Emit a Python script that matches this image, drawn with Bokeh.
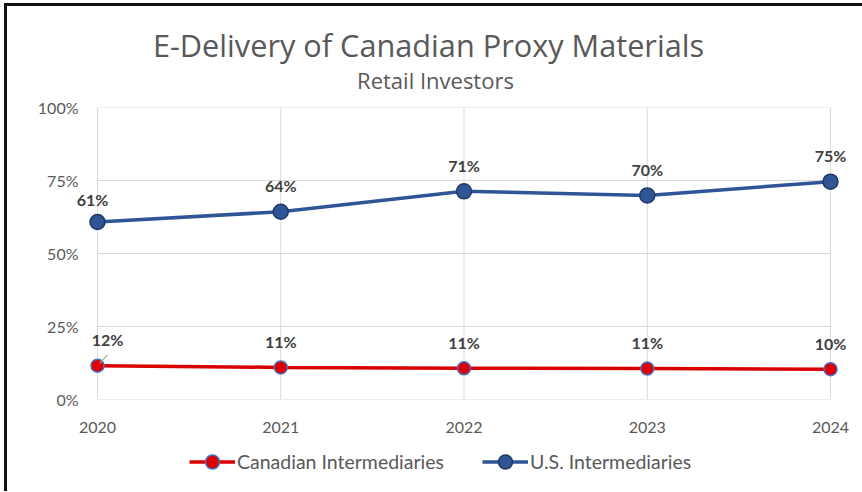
from bokeh.plotting import figure
from bokeh.layouts import column
from bokeh.models import (ColumnDataSource, LabelSet, Legend, LegendItem, Label,
                          FixedTicker, NumeralTickFormatter, Range1d)
from bokeh.core.properties import value
from bokeh.embed import file_html
from bokeh.resources import INLINE

title = "E-Delivery of Canadian Proxy Materials"
subtitle = "Retail Investors"
years = [2020, 2021, 2022, 2023, 2024]
us_vals = [0.608, 0.643, 0.713, 0.699, 0.746]
can_vals = [0.116, 0.110, 0.107, 0.106, 0.104]
y_ticks = [0, 0.25, 0.5, 0.75, 1.0]
series_names = ["Canadian Intermediaries", "U.S. Intermediaries"]

FONT = "Lato"
TFONT = "Open Sans"
GRAY = "#595959"
GRID = "#d9d9d9"

W = 855
FRAME_L, X0_PX, X1_PX, FRAME_R = 67, 90, 823, 845
ppy = (X1_PX - X0_PX) / (years[-1] - years[0])
x_start = years[0] - (X0_PX - FRAME_L) / ppy
x_end = years[-1] + (FRAME_R - X1_PX) / ppy

H0, H1, H2 = 91, 342, 52

# ---- title strip (frame is aligned with the main chart's frame; coords = canvas pixels)
top = figure(width=W, height=H0, output_backend="svg", toolbar_location=None,
             x_range=Range1d(FRAME_L, FRAME_R), y_range=Range1d(H0, 0),
             x_axis_type=None, y_axis_type=None, min_border=0)
top.outline_line_color = None
top.grid.visible = False
top.add_layout(Label(x=421, y=38, text=title, text_align="center", text_baseline="middle",
                     text_font=TFONT, text_font_size="30.7px", text_color=GRAY))
top.add_layout(Label(x=428, y=73, text=subtitle, text_align="center", text_baseline="middle",
                     text_font=TFONT, text_font_size="22px", text_color=GRAY))

# ---- main chart
p = figure(width=W, height=H1, output_backend="svg", toolbar_location=None,
           x_range=Range1d(x_start, x_end), y_range=Range1d(y_ticks[0], y_ticks[-1]),
           min_border_left=FRAME_L, min_border_right=W - FRAME_R,
           min_border_top=10, min_border_bottom=40)

p.outline_line_color = None
p.grid.visible = False
# gridlines limited to the data extent
p.segment(x0=years, y0=[y_ticks[0]] * len(years), x1=years, y1=[y_ticks[-1]] * len(years),
          line_color=GRID, line_width=1, level="underlay")
p.segment(x0=[years[0]] * len(y_ticks), y0=y_ticks, x1=[years[-1]] * len(y_ticks), y1=y_ticks,
          line_color=GRID, line_width=1, level="underlay")

p.xaxis.ticker = FixedTicker(ticks=years)
p.yaxis.ticker = FixedTicker(ticks=y_ticks)
p.yaxis.formatter = NumeralTickFormatter(format="0%")
for ax in (p.xaxis, p.yaxis):
    ax.axis_line_color = None
    ax.major_tick_line_color = None
    ax.minor_tick_line_color = None
    ax.major_label_text_font = FONT
    ax.major_label_text_font_size = "16px"
    ax.major_label_text_color = GRAY
p.yaxis.major_label_standoff = -10
p.xaxis.major_label_standoff = 16

us_src = ColumnDataSource(dict(x=years, y=us_vals, t=[f"{v:.0%}" for v in us_vals],
                               xo=[-5, 0, 0, 0, 0], yo=[22, 26, 26, 26, 26]))
can_src = ColumnDataSource(dict(x=years, y=can_vals, t=[f"{v:.0%}" for v in can_vals],
                                xo=[10, 0, 0, 0, 0], yo=[26, 26, 26, 26, 26]))

LINE_KW = dict(line_width=3.5)
CAN_LINE = dict(line_color="#D90000", **LINE_KW)
US_LINE = dict(line_color="#2F5597", **LINE_KW)
CAN_PT = dict(size=13, fill_color="#E00000", line_color="#4472C4", line_width=1.5)
US_PT = dict(size=15, fill_color="#2F5597", line_color="#1F3864", line_width=1.5)

p.line("x", "y", source=can_src, **CAN_LINE)
p.scatter("x", "y", source=can_src, **CAN_PT)
p.line("x", "y", source=us_src, **US_LINE)
p.scatter("x", "y", source=us_src, **US_PT)

# leader line for the first Canadian label
p.segment(x0=[years[0] + 0.012], y0=[can_vals[0] + 0.008],
          x1=[years[0] + 0.055], y1=[can_vals[0] + 0.037],
          line_color="#A6A6A6", line_width=1.2)

for src in (us_src, can_src):
    p.add_layout(LabelSet(x="x", y="y", text="t", source=src, x_offset="xo", y_offset="yo",
                          text_align="center", text_baseline="middle", text_font=value(FONT),
                          text_font_size=value("16px"), text_font_style=value("bold"),
                          text_color=value("#404040")))

# ---- legend strip (its renderers use the same data, outside the visible range)
lg = figure(width=W, height=H2, output_backend="svg", toolbar_location=None,
            x_range=Range1d(0, 1), y_range=Range1d(0, 1), x_axis_type=None, y_axis_type=None,
            min_border=0)
lg.outline_line_color = None
lg.grid.visible = False
r1 = lg.line("x", "y", source=can_src, **CAN_LINE)
r2 = lg.scatter("x", "y", source=can_src, **CAN_PT)
r3 = lg.line("x", "y", source=us_src, **US_LINE)
r4 = lg.scatter("x", "y", source=us_src, **US_PT)
legend = Legend(items=[LegendItem(label=series_names[0], renderers=[r1, r2]),
                       LegendItem(label=series_names[1], renderers=[r3, r4])],
                orientation="horizontal", location=(115, 12), padding=0, margin=0,
                spacing=38, glyph_width=46, glyph_height=35, label_standoff=2,
                label_text_font=FONT, label_text_font_size="19.5px",
                label_text_color=GRAY, border_line_color=None,
                background_fill_alpha=0)
lg.add_layout(legend, "center")

layout = column(top, p, lg, spacing=0,
                styles={"border-top": "3px solid #111111", "border-left": "3px solid #111111",
                        "margin-left": "4px", "margin-top": "3px"})

open("out.html", "w").write(file_html(layout, INLINE))
